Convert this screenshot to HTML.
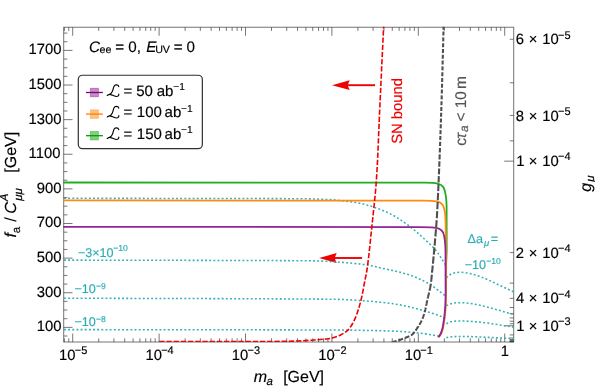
<!DOCTYPE html><html><head><meta charset="utf-8"><title>plot</title><style>html,body{margin:0;padding:0;background:#fff;overflow:hidden}svg{display:block;will-change:transform}text{font-family:"Liberation Sans",sans-serif;text-rendering:geometricPrecision;stroke-width:0.16px;paint-order:stroke}</style></head><body>
<svg width="595" height="386" viewBox="0 0 595 386">
<rect width="595" height="386" fill="#fff"/>
<defs><clipPath id="c"><rect x="63.2" y="26.65" width="451.00000000000006" height="315.45"/></clipPath></defs>
<rect x="63.7" y="27.25" width="450.00000000000006" height="314.75" fill="none" stroke="#757575" stroke-width="1"/>
<path d="M64.33,342.0 v-3.7 M64.33,27.25 v3.7 M68.75,342.0 v-3.7 M68.75,27.25 v3.7 M72.70,342.0 v-8.5 M72.70,27.25 v8.5 M98.71,342.0 v-3.7 M98.71,27.25 v3.7 M113.92,342.0 v-3.7 M113.92,27.25 v3.7 M124.72,342.0 v-3.7 M124.72,27.25 v3.7 M133.09,342.0 v-3.7 M133.09,27.25 v3.7 M139.93,342.0 v-3.7 M139.93,27.25 v3.7 M145.72,342.0 v-3.7 M145.72,27.25 v3.7 M150.73,342.0 v-3.7 M150.73,27.25 v3.7 M155.15,342.0 v-3.7 M155.15,27.25 v3.7 M159.10,342.0 v-8.5 M159.10,27.25 v8.5 M185.11,342.0 v-3.7 M185.11,27.25 v3.7 M200.32,342.0 v-3.7 M200.32,27.25 v3.7 M211.12,342.0 v-3.7 M211.12,27.25 v3.7 M219.49,342.0 v-3.7 M219.49,27.25 v3.7 M226.33,342.0 v-3.7 M226.33,27.25 v3.7 M232.12,342.0 v-3.7 M232.12,27.25 v3.7 M237.13,342.0 v-3.7 M237.13,27.25 v3.7 M241.55,342.0 v-3.7 M241.55,27.25 v3.7 M245.50,342.0 v-8.5 M245.50,27.25 v8.5 M271.51,342.0 v-3.7 M271.51,27.25 v3.7 M286.72,342.0 v-3.7 M286.72,27.25 v3.7 M297.52,342.0 v-3.7 M297.52,27.25 v3.7 M305.89,342.0 v-3.7 M305.89,27.25 v3.7 M312.73,342.0 v-3.7 M312.73,27.25 v3.7 M318.52,342.0 v-3.7 M318.52,27.25 v3.7 M323.53,342.0 v-3.7 M323.53,27.25 v3.7 M327.95,342.0 v-3.7 M327.95,27.25 v3.7 M331.90,342.0 v-8.5 M331.90,27.25 v8.5 M357.91,342.0 v-3.7 M357.91,27.25 v3.7 M373.12,342.0 v-3.7 M373.12,27.25 v3.7 M383.92,342.0 v-3.7 M383.92,27.25 v3.7 M392.29,342.0 v-3.7 M392.29,27.25 v3.7 M399.13,342.0 v-3.7 M399.13,27.25 v3.7 M404.92,342.0 v-3.7 M404.92,27.25 v3.7 M409.93,342.0 v-3.7 M409.93,27.25 v3.7 M414.35,342.0 v-3.7 M414.35,27.25 v3.7 M418.30,342.0 v-8.5 M418.30,27.25 v8.5 M444.31,342.0 v-3.7 M444.31,27.25 v3.7 M459.52,342.0 v-3.7 M459.52,27.25 v3.7 M470.32,342.0 v-3.7 M470.32,27.25 v3.7 M478.69,342.0 v-3.7 M478.69,27.25 v3.7 M485.53,342.0 v-3.7 M485.53,27.25 v3.7 M491.32,342.0 v-3.7 M491.32,27.25 v3.7 M496.33,342.0 v-3.7 M496.33,27.25 v3.7 M500.75,342.0 v-3.7 M500.75,27.25 v3.7 M504.70,342.0 v-8.5 M504.70,27.25 v8.5 M63.7,336.01 h3.7 M63.7,327.36 h8.8 M63.7,318.70 h3.7 M63.7,310.05 h3.7 M63.7,301.39 h3.7 M63.7,292.74 h8.8 M63.7,284.08 h3.7 M63.7,275.43 h3.7 M63.7,266.77 h3.7 M63.7,258.12 h8.8 M63.7,249.47 h3.7 M63.7,240.81 h3.7 M63.7,232.16 h3.7 M63.7,223.50 h8.8 M63.7,214.84 h3.7 M63.7,206.19 h3.7 M63.7,197.53 h3.7 M63.7,188.88 h8.8 M63.7,180.23 h3.7 M63.7,171.57 h3.7 M63.7,162.91 h3.7 M63.7,154.26 h8.8 M63.7,145.60 h3.7 M63.7,136.95 h3.7 M63.7,128.29 h3.7 M63.7,119.64 h8.8 M63.7,110.98 h3.7 M63.7,102.33 h3.7 M63.7,93.67 h3.7 M63.7,85.02 h8.8 M63.7,76.36 h3.7 M63.7,67.71 h3.7 M63.7,59.05 h3.7 M63.7,50.40 h8.8 M63.7,41.74 h3.7 M63.7,33.09 h3.7 M513.7,39.24 h-4 M513.7,82.79 h-4 M513.7,115.45 h-4 M513.7,140.85 h-4 M513.7,161.17 h-9.5 M513.7,252.62 h-4 M513.7,283.10 h-4 M513.7,298.35 h-4 M513.7,307.49 h-4 M513.7,313.59 h-4 M513.7,317.94 h-4 M513.7,321.21 h-4 M513.7,323.75 h-4 M513.7,325.78 h-9.5 M513.7,334.93 h-4 M513.7,337.97 h-4 M513.7,339.50 h-4 M513.7,340.41 h-4 M513.7,341.02 h-4 M513.7,341.46 h-4 M513.7,341.78 h-4" stroke="#303030" stroke-width="0.65" fill="none"/>
<path d="M375.1,85.2 L346.1,85.2" stroke="#f00000" stroke-width="1.9" fill="none"/>
<path d="M332.1,85.2 L349.70000000000005,80.3 L347.6,85.2 L349.70000000000005,90.10000000000001 Z" fill="#f00000"/>
<path d="M362.1,258 L333.1,258" stroke="#f00000" stroke-width="1.9" fill="none"/>
<path d="M319.1,258 L336.70000000000005,253.1 L334.6,258 L336.70000000000005,262.9 Z" fill="#f00000"/>
<g clip-path="url(#c)" fill="none">
<path d="M64.00,198.30 C142.67,198.43 221.33,198.42 300.00,198.70 C306.67,198.72 313.34,198.94 320.00,199.20 C325.94,199.44 331.89,199.54 337.80,200.20 C346.24,201.14 354.76,201.94 363.00,204.00 C371.63,206.16 380.15,209.01 388.20,212.80 C395.38,216.18 402.00,220.71 408.40,225.40 C414.64,229.97 420.29,235.29 426.00,240.50 C429.50,243.69 433.03,246.90 436.00,250.60 C439.56,255.04 442.33,260.07 445.50,264.80" stroke="#2fb1b8" stroke-width="1.55" stroke-dasharray="1.9 2.25"/>
<path d="M64.00,260.10 C142.67,260.30 221.33,260.34 300.00,260.70 C308.34,260.74 316.68,260.81 325.00,261.30 C337.69,262.05 350.40,262.76 363.00,264.40 C371.43,265.50 379.68,267.72 388.00,269.50 C392.02,270.36 396.03,271.24 400.00,272.30 C404.50,273.51 409.08,274.54 413.40,276.30 C419.12,278.62 424.74,281.27 430.00,284.50 C435.48,287.87 440.33,292.17 445.50,296.00" stroke="#2fb1b8" stroke-width="1.55" stroke-dasharray="1.9 2.25"/>
<path d="M64.00,298.20 C152.67,298.53 241.34,298.51 330.00,299.20 C340.01,299.28 350.01,299.82 360.00,300.50 C370.02,301.18 380.03,302.09 390.00,303.30 C395.17,303.93 400.30,304.91 405.40,306.00 C410.48,307.08 415.50,308.41 420.50,309.80 C425.57,311.21 430.61,312.72 435.60,314.40 C438.95,315.53 442.20,316.93 445.50,318.20" stroke="#2fb1b8" stroke-width="1.55" stroke-dasharray="1.9 2.25"/>
<path d="M64.00,329.60 C156.00,329.73 248.00,329.78 340.00,330.00 C346.67,330.02 353.33,330.17 360.00,330.30 C370.00,330.50 380.00,330.67 390.00,331.00 C395.14,331.17 400.27,331.41 405.40,331.80 C410.44,332.18 415.48,332.68 420.50,333.30 C425.55,333.92 430.58,334.67 435.60,335.50 C437.42,335.80 439.20,336.30 441.00,336.70" stroke="#2fb1b8" stroke-width="1.55" stroke-dasharray="1.9 2.25"/>
<path d="M446.30,277.60 C448.20,276.27 449.84,274.44 452.00,273.60 C454.52,272.63 457.30,272.32 460.00,272.30 C463.36,272.28 466.74,272.69 470.00,273.50 C475.12,274.77 480.11,276.54 485.00,278.50 C490.12,280.55 495.00,283.17 500.00,285.50 C504.66,287.67 509.33,289.83 514.00,292.00" stroke="#2fb1b8" stroke-width="1.55" stroke-dasharray="1.9 2.25"/>
<path d="M446.30,305.60 C448.20,304.87 450.01,303.82 452.00,303.40 C454.62,302.85 457.32,302.70 460.00,302.70 C463.34,302.70 466.69,302.91 470.00,303.40 C475.04,304.15 480.04,305.21 485.00,306.40 C490.05,307.61 495.01,309.17 500.00,310.60 C504.67,311.94 509.33,313.33 514.00,314.70" stroke="#2fb1b8" stroke-width="1.55" stroke-dasharray="1.9 2.25"/>
<path d="M446.30,323.60 C448.20,322.93 450.02,321.98 452.00,321.60 C454.63,321.10 457.33,321.04 460.00,321.00 C463.33,320.94 466.67,321.06 470.00,321.30 C475.01,321.66 480.01,322.18 485.00,322.80 C490.02,323.42 495.00,324.24 500.00,325.00 C504.67,325.71 509.33,326.47 514.00,327.20" stroke="#2fb1b8" stroke-width="1.55" stroke-dasharray="1.9 2.25"/>
<path d="M446.30,337.60 C448.20,337.33 450.09,336.95 452.00,336.80 C454.66,336.59 457.33,336.53 460.00,336.50 C463.33,336.46 466.67,336.51 470.00,336.60 C475.00,336.74 480.00,336.98 485.00,337.20 C490.00,337.42 495.00,337.66 500.00,337.90 C504.67,338.13 509.33,338.37 514.00,338.60" stroke="#2fb1b8" stroke-width="1.55" stroke-dasharray="1.9 2.25"/>
<path d="M63,182.5 L425,182.6 C436,182.7 441.2,183.3 443.6,187.5 C445.6,191.5 446.4,198 446.6,206 L446.7,250 L446.2,262" stroke="#1fae1f" stroke-width="1.8"/>
<path d="M63,200.45 L423,200.6 C435,200.7 440.3,201 442.8,205 C444.8,208.5 445.5,214 445.6,222 L445.8,236 L446.2,252 L446.1,290 L446.10,290.00 C446.05,293.33 446.03,296.67 445.95,300.00 C445.90,302.33 445.85,304.67 445.70,307.00 C445.53,309.67 445.29,312.34 445.00,315.00 C444.73,317.51 444.39,320.01 444.00,322.50 C443.66,324.68 443.36,326.87 442.80,329.00 C442.35,330.71 441.77,332.40 441.00,334.00 C440.43,335.19 439.53,336.20 438.80,337.30" stroke="#ff8a14" stroke-width="1.8"/>
<path d="M63,226.85 L420,227.05 L432,227.4 C438,227.6 441.3,228.8 443.1,232.5 C444.7,236.5 445.4,243 445.5,252 L445.6,290 L445.60,290.00 C445.57,293.33 445.58,296.67 445.50,300.00 C445.45,302.33 445.36,304.67 445.20,307.00 C445.02,309.67 444.79,312.34 444.50,315.00 C444.23,317.51 443.89,320.01 443.50,322.50 C443.16,324.68 442.86,326.87 442.30,329.00 C441.85,330.71 441.28,332.41 440.50,334.00 C439.93,335.16 439.03,336.13 438.30,337.20" stroke="#912591" stroke-width="1.8"/>
<path d="M159.20,341.50 C196.13,341.50 233.07,341.63 270.00,341.50 C279.00,341.47 288.00,341.28 297.00,341.00 C301.84,340.85 306.67,340.53 311.50,340.20 C316.34,339.87 321.18,339.51 326.00,339.00 C328.08,338.78 330.18,338.56 332.20,338.00 C335.04,337.22 337.87,336.31 340.50,335.00 C343.07,333.72 345.64,332.29 347.70,330.30 C349.85,328.22 351.44,325.61 352.90,323.00 C354.56,320.04 355.88,316.90 357.00,313.70 C358.66,308.95 360.01,304.09 361.20,299.20 C362.45,294.08 363.30,288.87 364.30,283.70 C365.37,278.14 366.65,272.61 367.40,267.00 C369.05,254.70 370.22,242.34 371.50,230.00 C373.22,213.34 375.25,196.71 376.40,180.00 C377.95,157.36 378.54,134.67 379.60,112.00 C380.34,96.33 381.06,80.67 381.80,65.00 C382.40,52.33 383.04,39.67 383.60,27.00 C383.70,24.67 383.73,22.33 383.80,20.00" stroke="#f00000" stroke-width="1.6" stroke-dasharray="5.3 1.9"/>
<path d="M391.80,342.40 L391.99,342.34 L392.18,342.29 L392.36,342.23 L392.55,342.17 L392.74,342.12 L392.93,342.06 L393.11,342.00 L393.30,341.95 L393.49,341.89 L393.68,341.84 L393.87,341.78 L394.05,341.72 L394.24,341.67 L394.43,341.61 L394.62,341.56 L394.81,341.50 L394.99,341.44 L395.18,341.39 L395.37,341.33 L395.56,341.28 L395.75,341.22 L395.93,341.16 L396.12,341.11 L396.31,341.05 L396.50,340.99 L396.59,340.97 M398.31,340.43 L398.37,340.41 L398.56,340.35 L398.74,340.29 L398.93,340.22 L399.11,340.16 L399.30,340.10 L399.45,340.05 L399.61,340.00 L399.76,339.94 L399.92,339.89 L400.07,339.84 L400.23,339.78 L400.38,339.73 L400.53,339.68 L400.69,339.62 L400.84,339.57 L400.99,339.51 L401.15,339.46 L401.30,339.40 L401.46,339.35 L401.61,339.29 L401.76,339.24 L401.92,339.18 L402.07,339.13 L402.22,339.07 L402.37,339.01 L402.53,338.96 L402.68,338.90 L402.83,338.84 L402.98,338.78 L403.02,338.77 M404.69,338.10 L404.80,338.06 L404.95,337.99 L405.10,337.93 L405.25,337.86 L405.40,337.80 L405.57,337.73 L405.75,337.65 L405.92,337.58 L406.10,337.51 L406.28,337.44 L406.46,337.37 L406.63,337.30 L406.81,337.23 L406.99,337.16 L407.17,337.10 L407.35,337.03 L407.53,336.96 L407.71,336.89 L407.89,336.82 L408.07,336.75 L408.25,336.69 L408.43,336.62 L408.60,336.54 L408.78,336.47 L408.96,336.40 L409.13,336.32 L409.31,336.25 L409.33,336.24 M410.94,335.42 L410.99,335.39 L411.15,335.29 L411.31,335.19 L411.46,335.08 L411.61,334.97 L411.76,334.86 L411.91,334.74 L412.06,334.62 L412.20,334.50 L412.39,334.33 L412.57,334.16 L412.75,333.99 L412.93,333.81 L413.10,333.64 L413.27,333.46 L413.44,333.27 L413.61,333.09 L413.77,332.90 L413.93,332.71 L414.09,332.52 L414.25,332.32 L414.41,332.13 L414.52,331.98 M415.58,330.52 L415.59,330.51 L415.73,330.30 L415.87,330.09 L416.01,329.88 L416.15,329.67 L416.29,329.46 L416.43,329.25 L416.56,329.04 L416.70,328.82 L416.84,328.61 L416.97,328.40 L417.11,328.19 L417.24,327.98 L417.38,327.76 L417.52,327.55 L417.65,327.34 L417.79,327.13 L417.93,326.92 L418.06,326.71 L418.20,326.50 L418.31,326.34 L418.31,326.33 M419.28,324.82 L419.36,324.69 L419.46,324.53 L419.56,324.36 L419.66,324.19 L419.76,324.03 L419.86,323.86 L419.96,323.69 L420.06,323.52 L420.16,323.35 L420.25,323.18 L420.35,323.01 L420.45,322.84 L420.54,322.67 L420.63,322.50 L420.73,322.33 L420.82,322.16 L420.91,321.99 L421.00,321.81 L421.09,321.64 L421.18,321.47 L421.26,321.29 L421.35,321.12 L421.44,320.94 L421.52,320.77 L421.60,320.59 L421.68,320.43 M422.38,318.78 L422.46,318.59 L422.54,318.37 L422.63,318.15 L422.71,317.92 L422.80,317.70 L422.88,317.47 L422.96,317.25 L423.05,317.02 L423.13,316.80 L423.20,316.57 L423.28,316.34 L423.36,316.12 L423.44,315.89 L423.51,315.66 L423.59,315.43 L423.66,315.21 L423.73,314.98 L423.81,314.75 L423.88,314.52 L423.95,314.29 L424.02,314.06 L424.02,314.05 M424.53,312.32 L424.56,312.22 L424.62,311.99 L424.68,311.76 L424.75,311.52 L424.81,311.29 L424.87,311.06 L424.94,310.83 L425.00,310.60 L425.07,310.34 L425.14,310.08 L425.21,309.81 L425.27,309.55 L425.34,309.29 L425.40,309.02 L425.46,308.76 L425.53,308.50 L425.59,308.23 L425.65,307.97 L425.71,307.70 L425.75,307.48 M426.13,305.72 L426.16,305.58 L426.21,305.31 L426.26,305.05 L426.32,304.78 L426.37,304.52 L426.42,304.25 L426.48,303.98 L426.53,303.72 L426.58,303.45 L426.64,303.19 L426.69,302.92 L426.74,302.65 L426.80,302.39 L426.85,302.12 L426.91,301.86 L426.96,301.59 L427.02,301.33 L427.07,301.06 L427.13,300.80 L427.18,300.53 L427.23,300.34 M427.62,298.58 L427.62,298.57 L427.71,298.21 L427.79,297.86 L427.88,297.50 L427.96,297.14 L428.05,296.79 L428.13,296.43 L428.22,296.07 L428.30,295.72 L428.39,295.36 L428.48,295.01 L428.56,294.65 L428.65,294.29 L428.74,293.94 L428.82,293.58 L428.91,293.22 L428.99,292.87 L429.08,292.51 L429.10,292.44 M429.50,290.69 L429.57,290.37 L429.65,290.01 L429.73,289.65 L429.81,289.30 L429.89,288.94 L429.96,288.58 L430.03,288.22 L430.10,287.86 L430.18,287.50 L430.24,287.14 L430.31,286.78 L430.38,286.42 L430.44,286.06 L430.50,285.70 L430.56,285.31 L430.63,284.92 L430.69,284.53 L430.75,284.14 L430.80,283.75 L430.83,283.59 M431.07,281.81 L431.07,281.79 L431.12,281.40 L431.17,281.01 L431.22,280.62 L431.27,280.22 L431.31,279.83 L431.36,279.44 L431.40,279.05 L431.44,278.65 L431.49,278.26 L431.53,277.87 L431.57,277.47 L431.61,277.08 L431.65,276.69 L431.69,276.29 L431.73,275.90 L431.77,275.51 L431.80,275.11 L431.84,274.72 L431.86,274.55 M432.03,272.76 L432.03,272.75 L432.07,272.36 L432.11,271.97 L432.14,271.57 L432.18,271.18 L432.22,270.79 L432.26,270.39 L432.30,270.00 L432.37,269.28 L432.45,268.55 L432.52,267.83 L432.59,267.10 L432.66,266.38 L432.73,265.65 L432.75,265.50 M432.92,263.70 L432.95,263.48 L433.02,262.75 L433.09,262.03 L433.16,261.30 L433.23,260.58 L433.29,259.85 L433.36,259.13 L433.43,258.40 L433.50,257.68 L433.57,256.96 L433.62,256.44 M433.78,254.65 L433.84,254.06 L433.91,253.33 L433.97,252.60 L434.04,251.88 L434.10,251.15 L434.17,250.43 L434.24,249.70 L434.30,248.98 L434.37,248.25 L434.43,247.53 L434.44,247.38 M434.60,245.58 L434.62,245.35 L434.69,244.63 L434.75,243.90 L434.81,243.18 L434.88,242.45 L434.94,241.73 L435.00,241.00 L435.06,240.35 L435.11,239.70 L435.17,239.05 L435.22,238.40 L435.23,238.31 M435.38,236.52 L435.39,236.45 L435.45,235.80 L435.50,235.15 L435.56,234.50 L435.61,233.85 L435.67,233.20 L435.72,232.56 L435.77,231.91 L435.83,231.26 L435.88,230.61 L435.94,229.96 L435.99,229.31 L435.99,229.24 M436.14,227.45 L436.15,227.36 L436.20,226.71 L436.25,226.06 L436.30,225.41 L436.35,224.76 L436.40,224.11 L436.44,223.46 L436.49,222.81 L436.54,222.16 L436.58,221.51 L436.63,220.86 L436.67,220.21 L436.68,220.17 M436.80,218.37 L436.80,218.25 L436.84,217.60 L436.88,216.95 L436.92,216.30 L436.96,215.65 L437.00,215.00 L437.07,213.75 L437.14,212.50 L437.21,211.25 L437.22,211.08 M437.31,209.29 L437.34,208.75 L437.41,207.50 L437.47,206.25 L437.54,205.00 L437.60,203.75 L437.66,202.50 L437.69,202.00 M437.78,200.20 L437.79,200.00 L437.85,198.75 L437.91,197.51 L437.97,196.26 L438.02,195.01 L438.08,193.76 L438.12,192.91 M438.20,191.11 L438.25,190.00 L438.31,188.75 L438.36,187.50 L438.42,186.25 L438.47,185.00 L438.50,184.30 M438.58,182.51 L438.58,182.50 L438.63,181.25 L438.69,180.00 L438.74,178.75 L438.79,177.50 L438.84,176.25 L438.85,176.17 M438.92,174.37 L438.95,173.75 L439.00,172.50 L439.05,171.25 L439.10,170.00 L439.15,168.75 L439.16,168.49 M439.23,166.69 L439.25,166.25 L439.30,165.00 L439.36,163.38 L439.43,161.75 L439.45,161.23 M439.52,159.43 L439.56,158.50 L439.62,156.88 L439.68,155.25 L439.72,154.36 M439.79,152.56 L439.81,152.00 L439.87,150.38 L439.93,148.75 L439.96,147.88 M440.03,146.08 L440.05,145.50 L440.11,143.88 L440.17,142.25 L440.19,141.75 M440.26,139.95 L440.29,139.00 L440.35,137.38 L440.40,135.95 M440.46,134.15 L440.46,134.13 L440.52,132.50 L440.58,130.88 L440.60,130.15 M440.67,128.36 L440.69,127.63 L440.75,126.00 L440.80,124.38 L440.80,124.36 M440.87,122.56 L440.91,121.13 L440.97,119.50 L441.00,118.56 M441.06,116.76 L441.08,116.25 L441.13,114.63 L441.18,113.00 L441.19,112.76 M441.25,110.96 L441.29,109.75 L441.34,108.13 L441.38,106.97 M441.44,105.17 L441.45,104.88 L441.50,103.25 L441.55,101.63 L441.56,101.17 M441.62,99.37 L441.66,98.18 L441.71,96.35 L441.74,95.37 M441.80,93.57 L441.82,92.70 L441.88,90.88 L441.91,89.58 M441.97,87.78 L441.98,87.23 L442.03,85.40 L442.08,83.78 M442.13,81.98 L442.14,81.75 L442.19,79.93 L442.24,78.10 L442.24,77.98 M442.29,76.18 L442.34,74.45 L442.39,72.63 L442.40,72.18 M442.45,70.38 L442.49,68.98 L442.54,67.15 L442.56,66.38 M442.60,64.58 L442.63,63.50 L442.68,61.68 L442.71,60.59 M442.76,58.79 L442.78,58.03 L442.83,56.20 L442.86,54.79 M442.91,52.99 L442.92,52.55 L442.97,50.73 L443.01,48.99 M443.06,47.19 L443.06,47.08 L443.11,45.25 L443.16,43.43 L443.17,43.19 M443.21,41.39 L443.26,39.78 L443.30,37.95 L443.32,37.39 M443.37,35.59 L443.40,34.30 L443.45,32.48 L443.47,31.60 M443.52,29.80 L443.55,28.83 L443.60,27.00 L443.60,26.82 L443.61,26.65 L443.61,26.47 L443.62,26.30 L443.62,26.12 L443.63,25.95 L443.63,25.80 M443.68,24.00 L443.69,23.85 L443.69,23.67 L443.70,23.50 L443.70,23.32 L443.71,23.15 L443.71,22.97 L443.72,22.80 L443.72,22.62 L443.73,22.45 L443.73,22.27 L443.74,22.10 L443.74,21.92 L443.75,21.75 L443.75,21.57 L443.76,21.40 L443.76,21.22 L443.77,21.05 L443.77,20.87 L443.78,20.70 L443.78,20.52 L443.79,20.35 L443.79,20.17 L443.80,20.00" stroke="#4f4f4f" stroke-width="2.1"/>
</g>
<text x="36.81" y="331.31" font-size="14.8" stroke="#000">100</text>
<text x="36.81" y="296.69" font-size="14.8" stroke="#000">300</text>
<text x="36.81" y="262.07" font-size="14.8" stroke="#000">500</text>
<text x="36.81" y="227.45" font-size="14.8" stroke="#000">700</text>
<text x="36.81" y="192.83" font-size="14.8" stroke="#000">900</text>
<text x="28.58" y="158.21" font-size="14.8" stroke="#000">1100</text>
<text x="28.58" y="123.59" font-size="14.8" stroke="#000">1300</text>
<text x="28.58" y="88.97" font-size="14.8" stroke="#000">1500</text>
<text x="28.58" y="54.35" font-size="14.8" stroke="#000">1700</text>
<text x="59.07" y="359.90" font-size="14.8" stroke="#000">10</text>
<text x="74.76" y="354.40" font-size="11" stroke="#000">−5</text>
<text x="145.47" y="359.90" font-size="14.8" stroke="#000">10</text>
<text x="161.16" y="354.40" font-size="11" stroke="#000">−4</text>
<text x="231.87" y="359.90" font-size="14.8" stroke="#000">10</text>
<text x="247.56" y="354.40" font-size="11" stroke="#000">−3</text>
<text x="318.27" y="359.90" font-size="14.8" stroke="#000">10</text>
<text x="333.96" y="354.40" font-size="11" stroke="#000">−2</text>
<text x="404.67" y="359.90" font-size="14.8" stroke="#000">10</text>
<text x="420.36" y="354.40" font-size="11" stroke="#000">−1</text>
<text x="500.77" y="355.80" font-size="14.8" stroke="#000">1</text>
<text x="515.65" y="44.34" font-size="14.8" stroke="#000">6</text>
<text x="528.87" y="44.34" font-size="14.8" stroke="#000">×</text>
<text x="542.17" y="44.34" font-size="14.8" stroke="#000">10</text>
<text x="557.96" y="38.54" font-size="11" stroke="#000">−5</text>
<text x="515.76" y="120.55" font-size="14.8" stroke="#000">8</text>
<text x="528.87" y="120.55" font-size="14.8" stroke="#000">×</text>
<text x="542.17" y="120.55" font-size="14.8" stroke="#000">10</text>
<text x="557.96" y="114.75" font-size="11" stroke="#000">−5</text>
<text x="516.37" y="166.27" font-size="14.8" stroke="#000">1</text>
<text x="528.87" y="166.27" font-size="14.8" stroke="#000">×</text>
<text x="542.17" y="166.27" font-size="14.8" stroke="#000">10</text>
<text x="557.96" y="160.47" font-size="11" stroke="#000">−4</text>
<text x="515.66" y="257.72" font-size="14.8" stroke="#000">2</text>
<text x="528.87" y="257.72" font-size="14.8" stroke="#000">×</text>
<text x="542.17" y="257.72" font-size="14.8" stroke="#000">10</text>
<text x="557.96" y="251.92" font-size="11" stroke="#000">−4</text>
<text x="516.06" y="303.45" font-size="14.8" stroke="#000">4</text>
<text x="528.87" y="303.45" font-size="14.8" stroke="#000">×</text>
<text x="542.17" y="303.45" font-size="14.8" stroke="#000">10</text>
<text x="557.96" y="297.65" font-size="11" stroke="#000">−4</text>
<text x="516.37" y="330.88" font-size="14.8" stroke="#000">1</text>
<text x="528.87" y="330.88" font-size="14.8" stroke="#000">×</text>
<text x="542.17" y="330.88" font-size="14.8" stroke="#000">10</text>
<text x="557.96" y="325.08" font-size="11" stroke="#000">−3</text>
<text x="253.73" y="381.50" font-size="16" font-style="italic" stroke="#000">m</text>
<text x="266.54" y="384.90" font-size="11.5" font-style="italic" stroke="#000">a</text>
<text x="283.16" y="381.50" font-size="16" stroke="#000">[GeV]</text>
<g transform="translate(16.3,237.7) rotate(-90)">
<text x="0.26" y="0.00" font-size="16" font-style="italic" stroke="#000">f</text>
<text x="4.51" y="3.90" font-size="11.5" stroke="#000">a</text>
<text x="15.90" y="0.00" font-size="16" stroke="#000">/</text>
<text x="23.92" y="0.00" font-size="16" font-style="italic" stroke="#000">C</text>
<text x="36.37" y="-8.50" font-size="11.5" font-style="italic" stroke="#000">A</text>
<text x="36.94" y="5.20" font-size="11.5" font-style="italic" stroke="#000">μμ</text>
<text x="64.96" y="0.00" font-size="16" stroke="#000">[GeV]</text>
</g>
<g transform="translate(590.5,192.2) rotate(-90)">
<text x="0.47" y="0.00" font-size="16" font-style="italic" stroke="#000">g</text>
<text x="10.44" y="3.60" font-size="11.5" font-style="italic" stroke="#000">μ</text>
</g>
<text x="89.06" y="52.10" font-size="15.2" font-style="italic" stroke="#000">C</text>
<text x="99.55" y="53.30" font-size="10.7" stroke="#000">ee</text>
<text x="115.16" y="52.10" font-size="15.2" stroke="#000">=</text>
<text x="128.31" y="52.10" font-size="15.2" stroke="#000">0,</text>
<text x="146.13" y="52.10" font-size="15.2" font-style="italic" stroke="#000">E</text>
<text x="155.17" y="53.30" font-size="10.7" stroke="#000">UV</text>
<text x="173.76" y="52.10" font-size="15.2" stroke="#000">=</text>
<text x="186.61" y="52.10" font-size="15.2" stroke="#000">0</text>
<rect x="78.3" y="75.25" width="124.05" height="73.45" rx="4.2" ry="4.2" fill="#fff" stroke="#303030" stroke-width="1.2"/>
<rect x="90.3" y="88.20" width="8.2" height="8.6" fill="#c48bc4" stroke="#800080" stroke-opacity="0.45" stroke-width="0.7"/>
<path d="M86,92.50 H102.9" stroke="#800080" stroke-width="1.3"/>
<g transform="translate(107,84.60) scale(1,0.96)"><path d="M11.8,2.1 C11.6,0.9 10.4,0.2 9.05,0.25 C8.1,0.3 7.5,0.8 7.1,1.6 C6.5,2.9 6.3,4.3 5.85,5.8 C5.4,7.2 4.9,8.4 4.1,9.2 C3.5,9.9 2.8,10.2 1.9,10.4 C1.2,10.6 0.6,10.9 0.2,11.4 C1.2,10.6 2.4,10.3 3.4,10.4 C4.6,10.5 5.6,11.2 6.8,11.7 C7.8,12.1 8.8,12.5 9.8,12.4 C10.6,12.3 11.2,12 11.5,11.4 C11.7,11 11.8,10.5 11.8,9.95" fill="none" stroke="#000" stroke-width="1.15" stroke-linecap="round" stroke-linejoin="round"/></g>
<text x="123.57" y="95.50" font-size="15" stroke="#000">=</text>
<text x="136.20" y="95.50" font-size="15" stroke="#000">50</text>
<text x="156.76" y="95.50" font-size="15" stroke="#000">ab</text>
<text x="173.30" y="90.40" font-size="10.2" stroke="#000">−1</text>
<rect x="90.3" y="109.80" width="8.2" height="8.6" fill="#ffc080" stroke="#ff8000" stroke-opacity="0.45" stroke-width="0.7"/>
<path d="M86,114.10 H102.9" stroke="#ff8000" stroke-width="1.3"/>
<g transform="translate(107,106.10) scale(1,0.96)"><path d="M11.8,2.1 C11.6,0.9 10.4,0.2 9.05,0.25 C8.1,0.3 7.5,0.8 7.1,1.6 C6.5,2.9 6.3,4.3 5.85,5.8 C5.4,7.2 4.9,8.4 4.1,9.2 C3.5,9.9 2.8,10.2 1.9,10.4 C1.2,10.6 0.6,10.9 0.2,11.4 C1.2,10.6 2.4,10.3 3.4,10.4 C4.6,10.5 5.6,11.2 6.8,11.7 C7.8,12.1 8.8,12.5 9.8,12.4 C10.6,12.3 11.2,12 11.5,11.4 C11.7,11 11.8,10.5 11.8,9.95" fill="none" stroke="#000" stroke-width="1.15" stroke-linecap="round" stroke-linejoin="round"/></g>
<text x="123.57" y="117.00" font-size="15" stroke="#000">=</text>
<text x="136.86" y="117.00" font-size="15" stroke="#000">100</text>
<text x="164.56" y="117.00" font-size="15" stroke="#000">ab</text>
<text x="181.10" y="111.90" font-size="10.2" stroke="#000">−1</text>
<rect x="90.3" y="131.40" width="8.2" height="8.6" fill="#80d080" stroke="#00a000" stroke-opacity="0.45" stroke-width="0.7"/>
<path d="M86,135.70 H102.9" stroke="#00a000" stroke-width="1.3"/>
<g transform="translate(107,127.60) scale(1,0.96)"><path d="M11.8,2.1 C11.6,0.9 10.4,0.2 9.05,0.25 C8.1,0.3 7.5,0.8 7.1,1.6 C6.5,2.9 6.3,4.3 5.85,5.8 C5.4,7.2 4.9,8.4 4.1,9.2 C3.5,9.9 2.8,10.2 1.9,10.4 C1.2,10.6 0.6,10.9 0.2,11.4 C1.2,10.6 2.4,10.3 3.4,10.4 C4.6,10.5 5.6,11.2 6.8,11.7 C7.8,12.1 8.8,12.5 9.8,12.4 C10.6,12.3 11.2,12 11.5,11.4 C11.7,11 11.8,10.5 11.8,9.95" fill="none" stroke="#000" stroke-width="1.15" stroke-linecap="round" stroke-linejoin="round"/></g>
<text x="123.57" y="138.50" font-size="15" stroke="#000">=</text>
<text x="136.86" y="138.50" font-size="15" stroke="#000">150</text>
<text x="164.56" y="138.50" font-size="15" stroke="#000">ab</text>
<text x="181.10" y="133.40" font-size="10.2" stroke="#000">−1</text>
<g transform="translate(402.3,143.4) rotate(-90)">
<text x="-0.47" y="0.00" font-size="14.8" fill="#f00000" stroke="#f00000">SN bound</text>
</g>
<g transform="translate(465.5,145.7) rotate(-90)">
<text x="-0.16" y="0.00" font-size="15.5" fill="#555555" stroke="#555555">c</text>
<text x="7.03" y="0.00" font-size="15.5" font-style="italic" fill="#555555" stroke="#555555">τ</text>
<text x="13.63" y="2.60" font-size="11.8" font-style="italic" fill="#555555" stroke="#555555">a</text>
<text x="24.14" y="0.00" font-size="15.5" fill="#555555" stroke="#555555">&lt;</text>
<text x="37.42" y="0.00" font-size="15.5" fill="#555555" stroke="#555555">10</text>
<text x="56.77" y="0.00" font-size="15.5" fill="#555555" stroke="#555555">m</text>
</g>
<text x="77.88" y="256.50" font-size="12.6" fill="#29adb5" stroke="#29adb5">−3×10</text>
<text x="113.28" y="251.40" font-size="8.6" fill="#29adb5" stroke="#29adb5">−10</text>
<text x="74.38" y="293.10" font-size="12.6" fill="#29adb5" stroke="#29adb5">−10</text>
<text x="95.88" y="288.50" font-size="8.6" fill="#29adb5" stroke="#29adb5">−9</text>
<text x="74.38" y="326.10" font-size="12.6" fill="#29adb5" stroke="#29adb5">−10</text>
<text x="95.88" y="321.50" font-size="8.6" fill="#29adb5" stroke="#29adb5">−8</text>
<text x="467.62" y="243.40" font-size="12.6" fill="#29adb5" stroke="#29adb5">Δa</text>
<text x="484.00" y="245.60" font-size="9.5" font-style="italic" fill="#29adb5" stroke="#29adb5">μ</text>
<text x="490.68" y="243.40" font-size="12.6" fill="#29adb5" stroke="#29adb5">=</text>
<text x="464.78" y="269.30" font-size="12.6" fill="#29adb5" stroke="#29adb5">−10</text>
<text x="486.28" y="264.10" font-size="8.6" fill="#29adb5" stroke="#29adb5">−10</text>
</svg></body></html>
